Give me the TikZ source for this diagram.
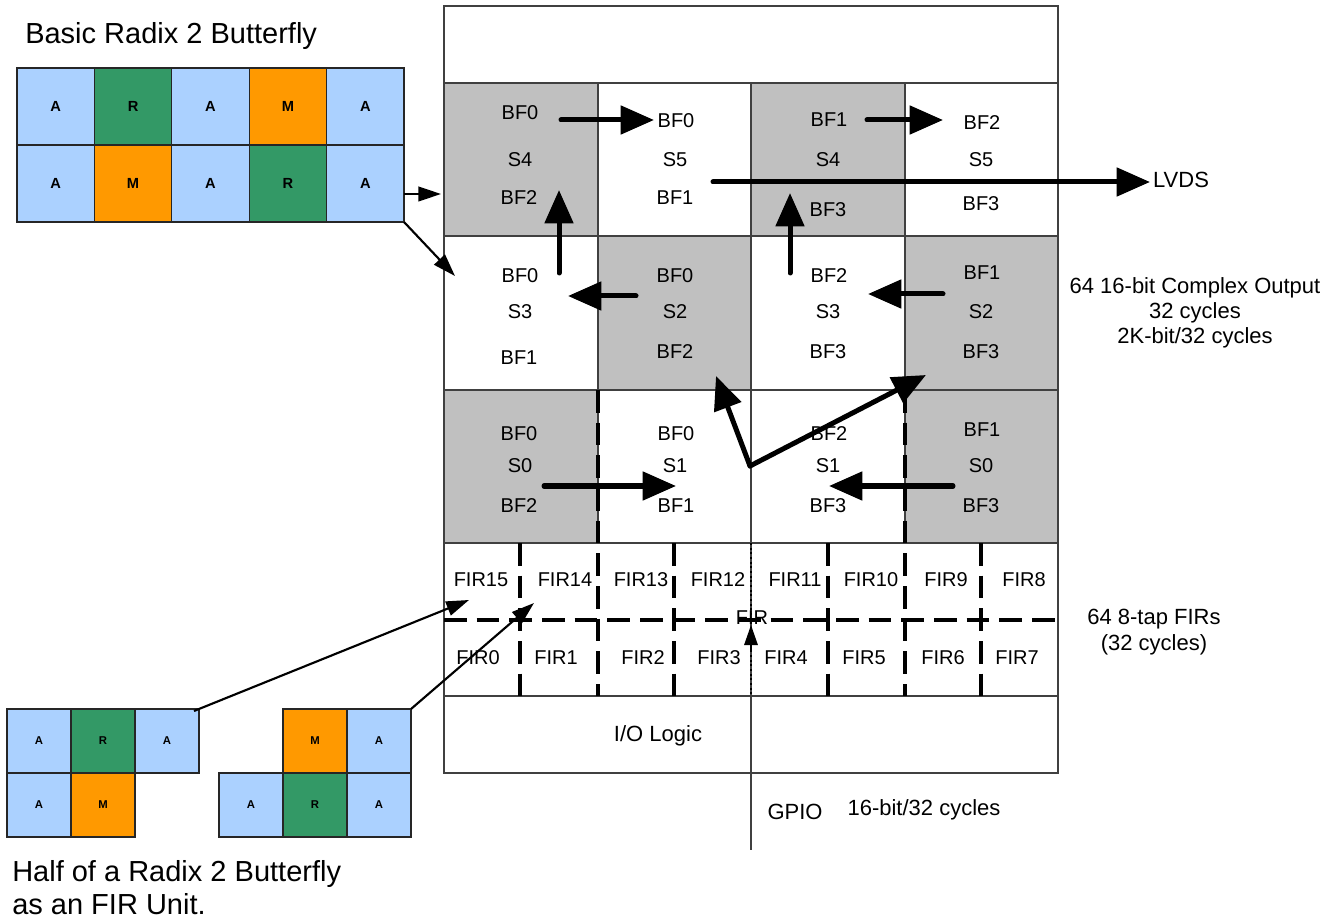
\documentclass[tikz,border=0pt]{standalone}
\usepackage{fontspec}
\setmainfont{Liberation Sans}
\usetikzlibrary{arrows.meta}
\definecolor{lblue}{HTML}{ABD1FF}
\definecolor{dgreen}{HTML}{339966}
\definecolor{orng}{HTML}{FF9900}
\definecolor{cellgray}{HTML}{C0C0C0}
\begin{document}
\begin{tikzpicture}[x=0.75pt,y=-0.75pt,
 gridline/.style={draw=black!75, line width=0.9pt},
 lab/.style={font=\fontsize{15}{17}\selectfont, inner sep=0pt},
 txt/.style={font=\fontsize{16.5}{19}\selectfont, inner sep=0pt},
 big/.style={font=\fontsize{21.75}{26}\selectfont, inner sep=0pt, anchor=west},
 ulbl/.style={font=\bfseries\fontsize{11}{12}\selectfont, inner sep=0pt},
 slbl/.style={font=\bfseries\fontsize{8.5}{9}\selectfont, inner sep=0pt},
 ucell/.style={draw=black!85, line width=0.8pt},
 fat/.style={line width=3.75pt, line cap=round, -{Triangle[length=25pt,width=21pt]}},
 slim/.style={line width=1.6pt, -{Triangle[length=17pt,width=11pt]}},
 dashline/.style={line width=2.6pt, dash pattern=on 17pt off 7.5pt},
]
\useasboundingbox (0,0) rectangle (1338,919);

% ---------- basic radix-2 butterfly ----------
\node[big] (title) at (25,36) {Basic Radix 2 Butterfly};
\foreach \i/\c/\t in {0/lblue/A,1/dgreen/R,2/lblue/A,3/orng/M,4/lblue/A}{
  \draw[ucell, fill=\c] (17+\i*77.4,68) rectangle ++(77.4,77);
  \node[ulbl] (bt\i) at (55.7+\i*77.4,106.5) {\t};
}
\foreach \i/\c/\t in {0/lblue/A,1/orng/M,2/lblue/A,3/dgreen/R,4/lblue/A}{
  \draw[ucell, fill=\c] (17+\i*77.4,145) rectangle ++(77.4,77);
  \node[ulbl] (bb\i) at (55.7+\i*77.4,183.5) {\t};
}

% ---------- FIR units ----------
\foreach \x/\y/\c/\t/\n in {7/709/lblue/A/ua1,71/709/dgreen/R/ua2,135/709/lblue/A/ua3,
                           7/773/lblue/A/ua4,71/773/orng/M/ua5,
                           283/709/orng/M/ub1,347/709/lblue/A/ub2,
                           219/773/lblue/A/ub3,283/773/dgreen/R/ub4,347/773/lblue/A/ub5}{
  \draw[ucell, fill=\c] (\x,\y) rectangle ++(64,64);
  \node[slbl] (\n) at (\x+32,\y+32) {\t};
}
\node[big] (half1) at (12,874) {Half of a Radix 2 Butterfly};
\node[big] (half2) at (12,904) {as an FIR Unit.};

% ---------- main grid shading ----------
\fill[cellgray] (444,83) rectangle (598,236);
\fill[cellgray] (751,83) rectangle (905,236);
\fill[cellgray] (598,236) rectangle (751,390);
\fill[cellgray] (905,236) rectangle (1058,390);
\fill[cellgray] (444,390) rectangle (598,543);
\fill[cellgray] (905,390) rectangle (1058,543);

% ---------- main grid lines ----------
\draw[gridline] (444,6) rectangle (1058,773);
\foreach \y in {83,236,390,543,696}{\draw[gridline] (444,\y) -- (1058,\y);}
\foreach \x in {598,905}{\draw[gridline] (\x,83) -- (\x,543);}
\draw[gridline] (751,83) -- (751,850);

% ---------- dashed FIR partition ----------
\draw[dashline] (444,620) -- (1060,620);
\foreach \x in {520,674,828,981}{\draw[dashline] (\x,543) -- (\x,696);}
\foreach \x in {598,905}{\draw[dashline] (\x,390) -- (\x,696);}
\draw[line width=1.5pt, dotted] (751,543) -- (751,696);

% ---------- cell labels ----------
\foreach \n/\x/\y/\t in {
 r1c1a/520/113/BF0, r1c1b/520/160/S4, r1c1c/519/198/BF2,
 r1c2a/676/121/BF0, r1c2b/675/160/S5, r1c2c/675/198/BF1,
 r1c3a/829/120/BF1, r1c3b/828/160/S4, r1c3c/828/210/BF3,
 r1c4a/982/123/BF2, r1c4b/981/160/S5, r1c4c/981/204/BF3,
 r2c1a/520/276/BF0, r2c1b/520/312/S3, r2c1c/519/358/BF1,
 r2c2a/675/276/BF0, r2c2b/675/312/S2, r2c2c/675/352/BF2,
 r2c3a/829/276/BF2, r2c3b/828/312/S3, r2c3c/828/352/BF3,
 r2c4a/982/273/BF1, r2c4b/981/312/S2, r2c4c/981/352/BF3,
 r3c1a/519/434/BF0, r3c1b/520/466/S0, r3c1c/519/506/BF2,
 r3c2a/676/434/BF0, r3c2b/675/466/S1, r3c2c/676/506/BF1,
 r3c3a/829/434/BF2, r3c3b/828/466/S1, r3c3c/828/506/BF3,
 r3c4a/982/430/BF1, r3c4b/981/466/S0, r3c4c/981/506/BF3}{
  \node[lab] (\n) at (\x,\y) {\t};
}
\foreach \n/\x/\y/\t in {
 f15/481/580/FIR15, f14/565/580/FIR14, f13/641/580/FIR13, f12/718/580/FIR12,
 f11/795/580/FIR11, f10/871/580/FIR10, f9/946/580/FIR9, f8/1024/580/FIR8,
 f0/478/658/FIR0, f1/556/658/FIR1, f2/643/658/FIR2, f3/719/658/FIR3,
 f4/786/658/FIR4, f5/864/658/FIR5, f6/943/658/FIR6, f7/1017/658/FIR7}{
  \node[lab] (\n) at (\x,\y) {\t};
}
\node[lab] (firc) at (752,618) {FIR};

% ---------- outer labels ----------
\node[txt] (lvds) at (1181,180) {LVDS};
\node[txt, align=center, font=\fontsize{16.5}{18.75}\selectfont] (cout) at (1195,313)
  {64 16-bit Complex Output\\32 cycles\\2K-bit/32 cycles};
\node[txt, align=center, font=\fontsize{16.5}{19.5}\selectfont] (firs) at (1154,632)
  {64 8-tap FIRs\\(32 cycles)};
\node[txt] (io) at (658,736) {I/O Logic};
\node[txt] (gpio) at (795,812) {GPIO};
\node[txt] (gpiow) at (924,810) {16-bit/32 cycles};

% ---------- arrow end points ----------
\coordinate (a1s) at (561,120);  \coordinate (a1e) at (654,120);
\coordinate (a2s) at (867,120);  \coordinate (a2e) at (943,120);
\coordinate (lvs) at (713,182);  \coordinate (lve) at (1150,182);
\coordinate (u1s) at (559,273);  \coordinate (u1e) at (559,190);
\coordinate (u2s) at (790,273);  \coordinate (u2e) at (790,193);
\coordinate (l1s) at (636,296);  \coordinate (l1e) at (568,296);
\coordinate (l2s) at (943,294);  \coordinate (l2e) at (868,294);
\coordinate (r3s) at (544,486);  \coordinate (r3e) at (676,486);
\coordinate (l3s) at (953,486);  \coordinate (l3e) at (829,486);
\coordinate (vj)  at (750,466);
\coordinate (d1e) at (716,376);  \coordinate (d2e) at (926,375);
\coordinate (btA) at (404,194);  \coordinate (btAe) at (441,194);
\coordinate (btB) at (404,222);  \coordinate (btBe) at (455,276);
\coordinate (uaT) at (194,711);  \coordinate (uaTe) at (469,600);
\coordinate (ubT) at (411,709);  \coordinate (ubTe) at (534,603);
\coordinate (fa)  at (751,650);  \coordinate (fae) at (751,625);

% ---------- connectors ----------
\draw[fat] (a1s) -- (a1e);
\draw[fat] (a2s) -- (a2e);
\draw[fat] (lvs) -- (lve);
\draw[fat] (u1s) -- (u1e);
\draw[fat] (u2s) -- (u2e);
\draw[fat] (l1s) -- (l1e);
\draw[fat] (l2s) -- (l2e);
\draw[fat] (r3s) -- (r3e);
\draw[fat] (l3s) -- (l3e);
\draw[fat, line join=miter] (vj) -- (d1e);
\draw[fat, line join=miter] (vj) -- (d2e);
\draw[slim] (btA) -- (btAe);
\draw[slim] (btB) -- (btBe);
\draw[slim] (uaT) -- (uaTe);
\draw[slim] (ubT) -- (ubTe);
\draw[line width=1.5pt, -{Triangle[length=15pt,width=10pt]}] (fa) -- (fae);
\end{tikzpicture}
\end{document}
